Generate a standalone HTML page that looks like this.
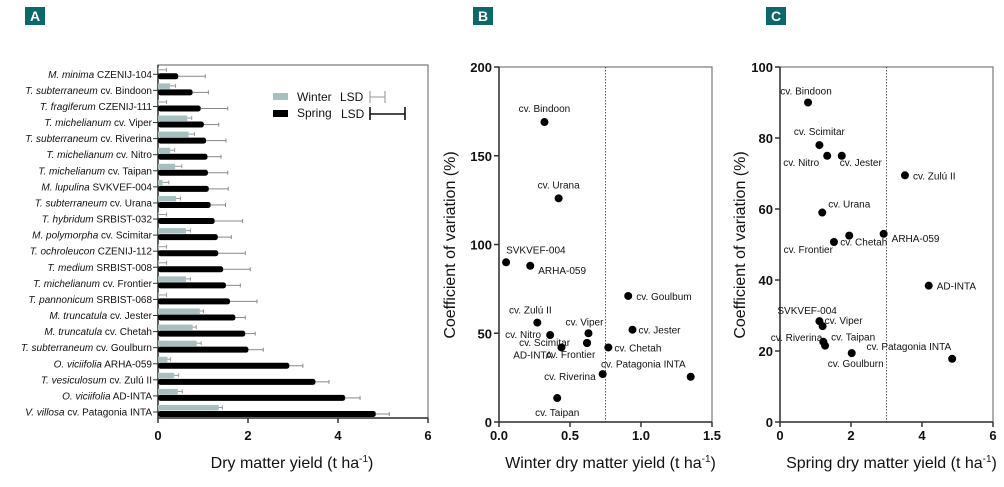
<!DOCTYPE html>
<html><head><meta charset="utf-8">
<style>
body{margin:0;background:#fff;}
svg{display:block;font-family:"Liberation Sans",Arial,sans-serif;}
</style></head>
<body>
<svg id="fig" width="1004" height="487" viewBox="0 0 1004 487"></svg>
<script>
// Panel A data
const speciesA = ["M. minima","T. subterraneum","T. fragiferum","T. michelianum","T. subterraneum","T. michelianum","T. michelianum","M. lupulina","T. subterraneum","T. hybridum","M. polymorpha","T. ochroleucon","T. medium","T. michelianum","T. pannonicum","M. truncatula","M. truncatula","T. subterraneum","O. viciifolia","T. vesiculosum","O. viciifolia","V. villosa"];
const accessionsA = ["CZENIJ-104","cv. Bindoon","CZENIJ-111","cv. Viper","cv. Riverina","cv. Nitro","cv. Taipan","SVKVEF-004","cv. Urana","SRBIST-032","cv. Scimitar","CZENIJ-112","SRBIST-008","cv. Frontier","SRBIST-068","cv. Jester","cv. Chetah","cv. Goulburn","ARHA-059","cv. Zulú II","AD-INTA","cv. Patagonia INTA"];
const winterA = [0.02,0.27,0.02,0.65,0.68,0.27,0.38,0.1,0.4,0.02,0.62,0.02,0.02,0.62,0.02,0.93,0.77,0.86,0.21,0.36,0.44,1.35];
const winterErr = [0.17,0.12,0.17,0.1,0.13,0.1,0.15,0.14,0.1,0.17,0.1,0.17,0.17,0.1,0.17,0.08,0.08,0.1,0.07,0.1,0.1,0.08];
const springA = [0.45,0.77,0.95,1.02,1.07,1.1,1.11,1.13,1.17,1.26,1.33,1.34,1.45,1.51,1.6,1.72,1.94,2.01,2.92,3.5,4.16,4.84];
const springErr = [0.6,0.35,0.6,0.33,0.44,0.3,0.44,0.43,0.33,0.62,0.3,0.6,0.6,0.32,0.6,0.22,0.22,0.33,0.3,0.3,0.33,0.3];
const ticksA = [0,2,4,6];
// Panel B data
const labelsB = ["cv. Bindoon","cv. Urana","SVKVEF-004","ARHA-059","cv. Goulbum","cv. Zulú II","cv. Viper","cv. Nitro","cv. Jester","cv. Scimitar","AD-INTA","cv. Frontier","cv. Chetah","cv. Riverina","cv. Patagonia INTA","cv. Taipan"];
const winterB = [0.32,0.42,0.05,0.22,0.91,0.27,0.63,0.36,0.94,0.62,0.44,0.62,0.77,0.73,1.35,0.41];
const cvB = [169,126,90,88,71,56,50,49,52,44.5,42,44.5,42,27,25.5,13.5];
const xTicksB = ["0.0","0.5","1.0","1.5"];
const yTicksB = [0,50,100,150,200];
// Panel C data
const labelsC = ["cv. Bindoon","cv. Scimitar","cv. Nitro","cv. Jester","cv. Zulú II","cv. Urana","cv. Chetah","ARHA-059","cv. Frontier","AD-INTA","SVKVEF-004","cv. Viper","cv. Riverina","cv. Taipan","cv. Goulburn","cv. Patagonia INTA"];
const springC = [0.79,1.11,1.33,1.74,3.52,1.19,1.95,2.92,1.52,4.19,1.11,1.2,1.22,1.27,2.02,4.85];
const cvC = [90,78,75,75,69.5,59,52.5,53,50.7,38.4,28.4,27,22.6,21.5,19.4,17.8];
const xTicksC = [0,2,4,6];
const yTicksC = [0,20,40,60,80,100];

const NS="http://www.w3.org/2000/svg";
const svg=document.getElementById('fig');
function mk(tag,attrs,parent){const e=document.createElementNS(NS,tag);for(const k in attrs)e.setAttribute(k,attrs[k]);(parent||svg).appendChild(e);return e;}
function txt(x,y,s,attrs,parent){const t=mk('text',Object.assign({x:x,y:y},attrs),parent);t.textContent=s;return t;}

// panel letters
[["A",25],["B",473],["C",766]].forEach(p=>{
  const g=mk('g',{});
  
  
  mk('rect',{x:p[1],y:7,width:20,height:18,fill:'#0b6868'},g);
  txt(p[1]+10,21,p[0],{'text-anchor':'middle','font-size':14,'font-weight':'bold',fill:'#fff'},g);
});

// ---------- Panel A ----------
const ax0=158, ax1=428, ayT=65, ayB=418;
const xA=v=>ax0+(v/6)*(ax1-ax0);
const rowY=i=>74.3+i*(412-74.3)/(speciesA.length-1);
const gA=mk('g',{});


mk('rect',{x:ax0,y:ayT,width:ax1-ax0,height:ayB-ayT,fill:'none',stroke:'#777','stroke-width':1.2},gA);
mk('line',{x1:ax0,y1:ayT,x2:ax0,y2:ayB,stroke:'#333','stroke-width':1.5},gA);
mk('line',{x1:ax0,y1:ayB,x2:ax1,y2:ayB,stroke:'#333','stroke-width':1.5},gA);
ticksA.forEach(t=>{
  mk('line',{x1:xA(t),y1:ayB,x2:xA(t),y2:ayB+5,stroke:'#333','stroke-width':1.5},gA);
  const l=txt(xA(t),440,String(t),{'text-anchor':'middle','font-size':13,'font-weight':'bold',fill:'#111'},gA);
  
  
});
const xtA=txt(292,468,'',{'text-anchor':'middle','font-size':16,fill:'#111'},gA);
xtA.innerHTML='Dry matter yield (t ha<tspan dy="-6" font-size="10">-1</tspan><tspan dy="6">)</tspan>';


speciesA.forEach((sp,i)=>{
  const y=rowY(i);
  mk('line',{x1:ax0-5,y1:y,x2:ax0,y2:y,stroke:'#333','stroke-width':1},gA);
  const l=txt(152,y+3.5,'',{'text-anchor':'end','font-size':10,fill:'#111'},gA);
  l.innerHTML='<tspan font-style="italic">'+sp+'</tspan> '+accessionsA[i];
  
  
  // winter
  const wb=mk('rect',{x:ax0,y:y-7,width:Math.max(0.5,xA(winterA[i])-ax0),height:5.5,fill:'#a7bfbf'},gA);
  
  
  const we=xA(winterA[i]+winterErr[i]);
  mk('line',{x1:xA(winterA[i]),y1:y-4.5,x2:we,y2:y-4.5,stroke:'#999','stroke-width':1},gA);
  mk('line',{x1:we,y1:y-6.5,x2:we,y2:y-2.5,stroke:'#999','stroke-width':1},gA);
  // spring
  const sb=mk('rect',{x:ax0,y:y-1,width:xA(springA[i])-ax0,height:6,rx:2.5,fill:'#000'},gA);
  
  
  const se=xA(springA[i]+springErr[i]);
  mk('line',{x1:xA(springA[i]),y1:y+2,x2:se,y2:y+2,stroke:'#888','stroke-width':1},gA);
  mk('line',{x1:se,y1:y,x2:se,y2:y+4,stroke:'#888','stroke-width':1},gA);
});
// legend
const lg=mk('g',{});


mk('rect',{x:273,y:93,width:15,height:7,fill:'#a7bfbf'},lg);
txt(297,101,'Winter',{'font-size':12,fill:'#111'},lg);
txt(340,101,'LSD',{'font-size':12,fill:'#111'},lg);
mk('path',{d:'M370,91V103M370,97H385M385,91V103',stroke:'#aaa','stroke-width':1.3,fill:'none'},lg);
mk('rect',{x:273,y:110,width:15,height:7,fill:'#000'},lg);
txt(297,117,'Spring',{'font-size':12,fill:'#111'},lg);
txt(341,118,'LSD',{'font-size':12,fill:'#111'},lg);
mk('path',{d:'M370,107V120M370,114H405M405,107V120',stroke:'#111','stroke-width':1.6,fill:'none'},lg);

// ---------- scatter helper ----------
function scatter(name,x0,x1,y0,y1,xmax,ymax,xs,ys,labels,xTicks,xTickVals,yTicks,dotX,xTitle,yTitleX,offsets){
  const g=mk('g',{});
  
  
  const X=v=>x0+v/xmax*(x1-x0), Y=v=>y1-v/ymax*(y1-y0);
  mk('rect',{x:x0,y:y0,width:x1-x0,height:y1-y0,fill:'none',stroke:'#777','stroke-width':1.2},g);
  mk('line',{x1:x0,y1:y0,x2:x0,y2:y1,stroke:'#333','stroke-width':1.5},g);
  mk('line',{x1:x0,y1:y1,x2:x1,y2:y1,stroke:'#333','stroke-width':1.5},g);
  mk('line',{x1:X(dotX),y1:y0,x2:X(dotX),y2:y1,stroke:'#333','stroke-width':0.8,'stroke-dasharray':'1.5,1.5'},g);
  xTickVals.forEach((t,i)=>{
    mk('line',{x1:X(t),y1:y1,x2:X(t),y2:y1+5,stroke:'#333','stroke-width':1.5},g);
    const l=txt(X(t),440,xTicks[i],{'text-anchor':'middle','font-size':13,'font-weight':'bold',fill:'#111'},g);
    
    
  });
  yTicks.forEach(t=>{
    mk('line',{x1:x0-5,y1:Y(t),x2:x0,y2:Y(t),stroke:'#333','stroke-width':1.5},g);
    const l=txt(x0-7,Y(t)+5,String(t),{'text-anchor':'end','font-size':13,'font-weight':'bold',fill:'#111'},g);
    
    
  });
  const xt=txt((x0+x1)/2+5,468,'',{'text-anchor':'middle','font-size':16,fill:'#111'},g);
  xt.innerHTML=xTitle+' (t ha<tspan dy="-6" font-size="10">-1</tspan><tspan dy="6">)</tspan>';
  
  
  const yt=txt(0,0,'Coefficient of variation (%)',{'text-anchor':'middle','font-size':16,fill:'#111',transform:'translate('+yTitleX+',245) rotate(-90)'},g);
  
  
  xs.forEach((v,i)=>{
    const c=mk('circle',{cx:X(v),cy:Y(ys[i]),r:4,fill:'#000'},g);
    
    
    const o=offsets[i];
    const l=txt(X(v)+o[0],Y(ys[i])+o[1],labels[i],{'text-anchor':o[2],'font-size':10,fill:'#111'},g);
    
    
  });
}
const offB=[[0,-10,'middle'],[0,-10,'middle'],[0,-9,'start'],[8,8,'start'],[8,4,'start'],[-7,-9,'middle'],[-23,-8,'start'],[-9,3,'end'],[6,4,'start'],[-17,3,'end'],[-9,11,'end'],[-41,15,'start'],[6,4,'start'],[-7,6,'end'],[-5,-9,'end'],[0,18,'middle']];
scatter('panel-b-scatter',499,712,67,422,1.5,200,winterB,cvB,labelsB,xTicksB,[0,0.5,1,1.5],yTicksB,0.75,'Winter dry matter yield',455,offB);
const offC=[[-2,-8,'middle'],[0,-10,'middle'],[-8,10,'end'],[-2,10,'start'],[8,4,'start'],[6,-5,'start'],[-9,10,'start'],[8,8,'start'],[-1,11,'end'],[8,4,'start'],[-42,-7,'start'],[2,-2,'start'],[-1,-1,'end'],[6,-5,'start'],[-24,14,'start'],[-1,-9,'end']];
scatter('panel-c-scatter',780,993,67,422,6,100,springC,cvC,labelsC,xTicksC.map(String),xTicksC,yTicksC,3,'Spring dry matter yield',745,offC);
</script>
</body></html>
